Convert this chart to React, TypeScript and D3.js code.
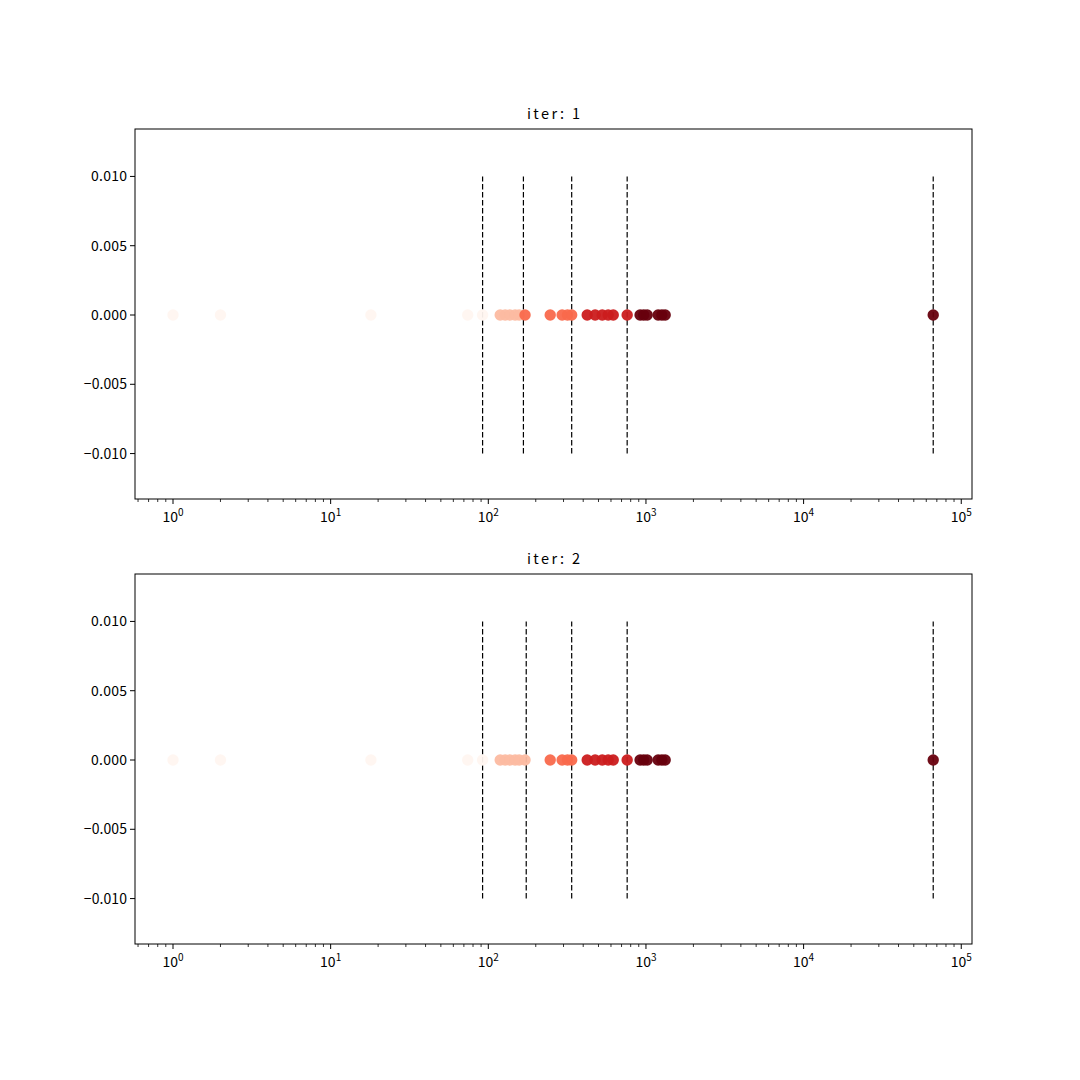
import React from "react";
import * as d3 from "d3";

// ---- data ----
const values = [1, 2, 18, 74, 92, 119, 128, 137, 148, 157, 171, 247, 294, 318, 338, 424, 476, 528, 576, 620, 760, 918, 968, 1018, 1195, 1262, 1324, 66400];
const iterTitles = ["iter: 1", "iter: 2"];
const breaksIter1 = [92, 167, 338, 760, 66400];
const breaksIter2 = [92, 174, 338, 760, 66400];
const breaksList = [breaksIter1, breaksIter2];
const yTicks = [-0.01, -0.005, 0, 0.005, 0.01];
const xMajorExp = [0, 1, 2, 3, 4, 5];

const W = 1080;
const H = 1080;
const left = 135;
const right = 972;
const panels = [
  { top: 129, bottom: 499, titleY: 119 },
  { top: 574, bottom: 944, titleY: 564 },
];
const FONT = "'Noto Sans CJK SC', 'DejaVu Sans', sans-serif";

function classOf(v: number, breaks: number[]) {
  for (let i = 0; i < breaks.length; i++) if (v <= breaks[i]) return i;
  return breaks.length - 1;
}

function Panel({ idx }: { idx: number }) {
  const p = panels[idx];
  const breaks = breaksList[idx];
  const x = d3.scaleLog().domain([0.574, 117000]).range([left, right]);
  const y = d3.scaleLinear().domain([-0.01335, 0.01335]).range([p.bottom + 1, p.top + 1]);
  const color = (c: number) => d3.interpolateReds(c / (breaks.length - 1));
  const [d0, d1] = x.domain();
  const minor: number[] = [];
  for (let e = -1; e <= 5; e++) {
    for (let k = 2; k <= 9; k++) {
      const v = k * Math.pow(10, e);
      if (v >= d0 && v <= d1) minor.push(v);
    }
  }
  const fmt = d3.format(".3f");
  return (
    <g>
      <text x={(left + right) / 2} y={p.titleY} textAnchor="middle" fontFamily={FONT} fontSize={14.5} textLength={iterTitles[idx].length * 7.6} lengthAdjust="spacing">
        {iterTitles[idx]}
      </text>
      {/* vlines */}
      {breaks.map((b, i) => (
        <line key={"b" + i} x1={x(b)} x2={x(b)} y1={y(-0.01)} y2={y(0.01)} stroke="#000" strokeWidth={1.2} strokeDasharray="5.5,2.5" />
      ))}
      {/* points */}
      {values.map((v, i) => (
        <circle key={"p" + i} cx={x(v)} cy={y(0)} r={5.7} fill={color(classOf(v, breaks))} opacity={0.95} />
      ))}
      {/* frame */}
      <rect x={left} y={p.top} width={right - left} height={p.bottom - p.top} fill="none" stroke="#000" strokeWidth={1} />
      {/* y ticks */}
      {yTicks.map((t, i) => {
        const s = fmt(t);
        return (
          <g key={"y" + i}>
            <line x1={left - 5} x2={left} y1={y(t)} y2={y(t)} stroke="#000" strokeWidth={1} />
            <text x={left - 8} y={y(t) + 5} textAnchor="end" fontFamily={FONT} fontSize={14} textLength={s.length * 7.2} lengthAdjust="spacing">
              {s}
            </text>
          </g>
        );
      })}
      {/* x ticks */}
      {minor.map((v, i) => (
        <line key={"m" + i} x1={x(v)} x2={x(v)} y1={p.bottom} y2={p.bottom + 3} stroke="#000" strokeWidth={0.8} />
      ))}
      {xMajorExp.map((e) => {
        const v = Math.pow(10, e);
        const px = x(v);
        return (
          <g key={"x" + e}>
            <line x1={px} x2={px} y1={p.bottom} y2={p.bottom + 5} stroke="#000" strokeWidth={1} />
            <text x={px} y={p.bottom + 23} textAnchor="middle" fontFamily={FONT} fontSize={14}>
              <tspan>10</tspan>
              <tspan dy={-6} fontSize={10}>{String(e)}</tspan>
            </text>
          </g>
        );
      })}
    </g>
  );
}

export default function App() {
  return (
    <div style={{ position: "absolute", left: 0, top: 0, width: W, height: H, background: "#fff" }}>
      <svg width={W} height={H} viewBox={`0 0 ${W} ${H}`}>
        <rect x={0} y={0} width={W} height={H} fill="#fff" />
        <Panel idx={0} />
        <Panel idx={1} />
      </svg>
    </div>
  );
}
